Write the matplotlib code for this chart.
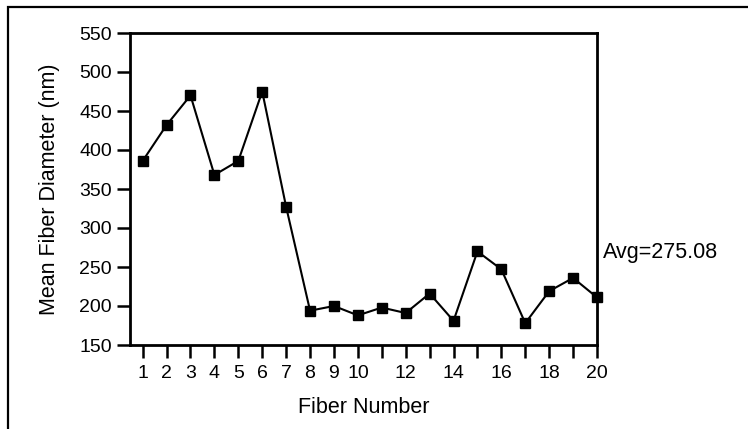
from matplotlib import pyplot as plt
from matplotlib.patches import Rectangle
import matplotlib.transforms as mtransforms

plt.rcParams['font.family'] = ['Liberation Sans', 'DejaVu Sans']

# data
fiber_number = list(range(1, 21))
mean_diameter = [386, 432, 470, 368, 386, 475, 327, 194, 200, 188,
                 198, 191, 216, 181, 270, 247, 178, 219, 236, 211]
avg_label = 'Avg=275.08'

xtick_values = list(range(1, 21))
xtick_labels = ['1', '2', '3', '4', '5', '6', '7', '8', '9', '10',
                '', '12', '', '14', '', '16', '', '18', '', '20']
ytick_values = [150, 200, 250, 300, 350, 400, 450, 500, 550]

fig = plt.figure(figsize = (7.48, 4.29), dpi = 100)
ax = fig.add_axes([130 / 748, 1 - 345 / 429, 467 / 748, 312 / 429])

ax.plot(fiber_number, mean_diameter, color = 'black', linewidth = 1.5,
        marker = 's', markersize = 6.8, markerfacecolor = 'black',
        markeredgecolor = 'black', clip_on = False, zorder = 3)

ax.set_xlim(0.47, 20)
ax.set_ylim(150, 550)

ax.set_xticks(xtick_values)
ax.set_xticklabels(xtick_labels)
ax.set_yticks(ytick_values)
ax.set_yticklabels([str(v) for v in ytick_values])

ax.tick_params(axis = 'both', direction = 'out', length = 9.4, width = 1.8,
               labelsize = 14, color = 'black')
ax.tick_params(axis = 'x', pad = 5)
ax.tick_params(axis = 'y', pad = 3.6)

for side in ['left', 'right', 'top', 'bottom']:
  ax.spines[side].set_linewidth(2.0)
  ax.spines[side].set_color('black')

ax.set_xlabel('Fiber Number', fontsize = 15.5)
ax.set_ylabel('Mean Fiber Diameter (nm)', fontsize = 15.5)
ax.xaxis.set_label_coords(0.5, -0.168)
ax.yaxis.set_label_coords(-0.150, 0.5)

trans = mtransforms.blended_transform_factory(ax.transAxes, ax.transData)
ax.text(1.0128, 268, avg_label, transform = trans, fontsize = 15.5,
        ha = 'left', va = 'center')

# outer frame, right and bottom edges run off the picture
fig.patches.append(Rectangle((7.5 / 748, -0.1), 1.2, 1.1 - 7.5 / 429,
                             transform = fig.transFigure, fill = False,
                             edgecolor = 'black', linewidth = 1.6))

fig.savefig('out.png', dpi = 100)
